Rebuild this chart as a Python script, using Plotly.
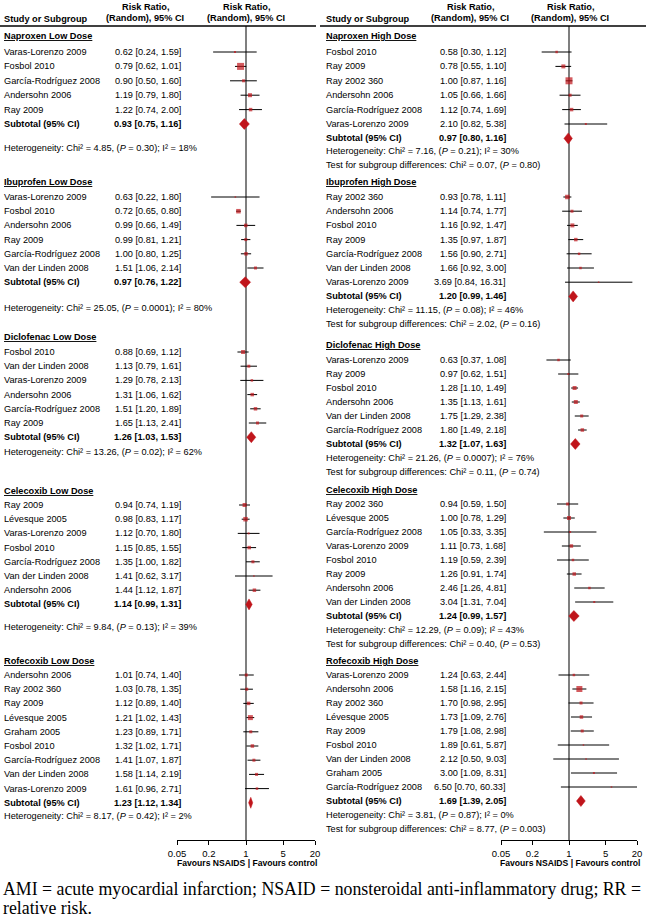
import math
import plotly.graph_objects as go

W, H = 646, 923
FONT = "Liberation Sans, Arial, sans-serif"
SERIF = "Liberation Serif, Times New Roman, serif"
RED = "#C0151B"
FS = 9.2

# ---------------- DATA ----------------
# Left column (low dose)
nap_lo_title = "Naproxen Low Dose"
nap_lo_study = ["Varas-Lorenzo 2009", "Fosbol 2010", "García-Rodríguez 2008", "Andersohn 2006", "Ray 2009"]
nap_lo_rr = [0.62, 0.79, 0.90, 1.19, 1.22]
nap_lo_lo = [0.24, 0.62, 0.50, 0.79, 0.74]
nap_lo_hi = [1.59, 1.01, 1.60, 1.80, 2.00]
nap_lo_w = [2, 7, 3, 4, 3.5]
nap_lo_sub = [0.93, 0.75, 1.16]
nap_lo_het = ["4.85", "0.30", "18%"]

ibu_lo_title = "Ibuprofen Low Dose"
ibu_lo_study = ["Varas-Lorenzo 2009", "Fosbol 2010", "Andersohn 2006", "Ray 2009", "García-Rodríguez 2008", "Van der Linden 2008"]
ibu_lo_rr = [0.63, 0.72, 0.99, 0.99, 1.00, 1.51]
ibu_lo_lo = [0.22, 0.65, 0.66, 0.81, 0.80, 1.06]
ibu_lo_hi = [1.80, 0.80, 1.49, 1.21, 1.25, 2.14]
ibu_lo_w = [1.5, 4.5, 3.5, 3, 3.5, 3]
ibu_lo_sub = [0.97, 0.76, 1.22]
ibu_lo_het = ["25.05", "0.0001", "80%"]

dic_lo_title = "Diclofenac Low Dose"
dic_lo_study = ["Fosbol 2010", "Van der Linden 2008", "Varas-Lorenzo 2009", "Andersohn 2006", "García-Rodríguez 2008", "Ray 2009"]
dic_lo_rr = [0.88, 1.13, 1.29, 1.31, 1.51, 1.65]
dic_lo_lo = [0.69, 0.79, 0.78, 1.06, 1.20, 1.13]
dic_lo_hi = [1.12, 1.61, 2.13, 1.62, 1.89, 2.41]
dic_lo_w = [4, 3, 2.5, 3.5, 3.5, 3]
dic_lo_sub = [1.26, 1.03, 1.53]
dic_lo_het = ["13.26", "0.02", "62%"]

cel_lo_title = "Celecoxib Low Dose"
cel_lo_study = ["Ray 2009", "Lévesque 2005", "Varas-Lorenzo 2009", "Fosbol 2010", "García-Rodríguez 2008", "Van der Linden 2008", "Andersohn 2006"]
cel_lo_rr = [0.94, 0.98, 1.12, 1.15, 1.35, 1.41, 1.44]
cel_lo_lo = [0.74, 0.83, 0.70, 0.85, 1.00, 0.62, 1.12]
cel_lo_hi = [1.19, 1.17, 1.80, 1.55, 1.82, 3.17, 1.87]
cel_lo_w = [4, 4.5, 2, 3.5, 3, 1.5, 3.5]
cel_lo_sub = [1.14, 0.99, 1.31]
cel_lo_het = ["9.84", "0.13", "39%"]

rof_lo_title = "Rofecoxib Low Dose"
rof_lo_study = ["Andersohn 2006", "Ray 2002 360", "Ray 2009", "Lévesque 2005", "Graham 2005", "Fosbol 2010", "García-Rodríguez 2008", "Van der Linden 2008", "Varas-Lorenzo 2009"]
rof_lo_rr = [1.01, 1.03, 1.12, 1.21, 1.23, 1.32, 1.41, 1.58, 1.61]
rof_lo_lo = [0.74, 0.78, 0.89, 1.02, 0.89, 1.02, 1.07, 1.14, 0.96]
rof_lo_hi = [1.40, 1.35, 1.40, 1.43, 1.71, 1.71, 1.87, 2.19, 2.71]
rof_lo_w = [3, 3, 3.5, 5, 3, 3.5, 3, 3, 2.5]
rof_lo_sub = [1.23, 1.12, 1.34]
rof_lo_het = ["8.17", "0.42", "2%"]

# Right column (high dose)
nap_hi_title = "Naproxen High Dose"
nap_hi_study = ["Fosbol 2010", "Ray 2009", "Ray 2002 360", "Andersohn 2006", "García-Rodríguez 2008", "Varas-Lorenzo 2009"]
nap_hi_rr = [0.58, 0.78, 1.00, 1.05, 1.12, 2.10]
nap_hi_lo = [0.30, 0.55, 0.87, 0.66, 0.74, 0.82]
nap_hi_hi = [1.12, 1.10, 1.16, 1.66, 1.69, 5.38]
nap_hi_w = [2.5, 4, 7, 3, 3.5, 2]
nap_hi_sub = [0.97, 0.80, 1.16]
nap_hi_het = ["7.16", "0.21", "30%"]
nap_hi_test = ["0.07", "0.80"]

ibu_hi_title = "Ibuprofen High Dose"
ibu_hi_study = ["Ray 2002 360", "Andersohn 2006", "Fosbol 2010", "Ray 2009", "García-Rodríguez 2008", "Van der Linden 2008", "Varas-Lorenzo 2009"]
ibu_hi_rr = [0.93, 1.14, 1.16, 1.35, 1.56, 1.66, 3.69]
ibu_hi_lo = [0.78, 0.74, 0.92, 0.97, 0.90, 0.92, 0.84]
ibu_hi_hi = [1.11, 1.77, 1.47, 1.87, 2.71, 3.00, 16.31]
ibu_hi_w = [4.5, 3, 4, 3.5, 2.5, 2.5, 1.5]
ibu_hi_sub = [1.20, 0.99, 1.46]
ibu_hi_het = ["11.15", "0.08", "46%"]
ibu_hi_test = ["2.02", "0.16"]

dic_hi_title = "Diclofenac High Dose"
dic_hi_study = ["Varas-Lorenzo 2009", "Ray 2009", "Fosbol 2010", "Andersohn 2006", "Van der Linden 2008", "García-Rodríguez 2008"]
dic_hi_rr = [0.63, 0.97, 1.28, 1.35, 1.75, 1.80]
dic_hi_lo = [0.37, 0.62, 1.10, 1.13, 1.29, 1.49]
dic_hi_hi = [1.08, 1.51, 1.49, 1.61, 2.38, 2.18]
dic_hi_w = [2.5, 2, 4, 4, 3, 3.5]
dic_hi_sub = [1.32, 1.07, 1.63]
dic_hi_het = ["21.26", "0.0007", "76%"]
dic_hi_test = ["0.11", "0.74"]

cel_hi_title = "Celecoxib High Dose"
cel_hi_study = ["Ray 2002 360", "Lévesque 2005", "García-Rodríguez 2008", "Varas-Lorenzo 2009", "Fosbol 2010", "Ray 2009", "Andersohn 2006", "Van der Linden 2008"]
cel_hi_rr = [0.94, 1.00, 1.05, 1.11, 1.19, 1.26, 2.46, 3.04]
cel_hi_lo = [0.59, 0.78, 0.33, 0.73, 0.59, 0.91, 1.26, 1.31]
cel_hi_hi = [1.50, 1.29, 3.35, 1.68, 2.39, 1.74, 4.81, 7.04]
cel_hi_w = [3, 4, 2, 3.5, 2.5, 3.5, 2.5, 2]
cel_hi_sub = [1.24, 0.99, 1.57]
cel_hi_het = ["12.29", "0.09", "43%"]
cel_hi_test = ["0.40", "0.53"]

rof_hi_title = "Rofecoxib High Dose"
rof_hi_study = ["Varas-Lorenzo 2009", "Andersohn 2006", "Ray 2002 360", "Lévesque 2005", "Ray 2009", "Fosbol 2010", "Van der Linden 2008", "Graham 2005", "García-Rodríguez 2008"]
rof_hi_rr = [1.24, 1.58, 1.70, 1.73, 1.79, 1.89, 2.12, 3.00, 6.50]
rof_hi_lo = [0.63, 1.16, 0.98, 1.09, 1.08, 0.61, 0.50, 1.09, 0.70]
rof_hi_hi = [2.44, 2.15, 2.95, 2.76, 2.98, 5.87, 9.03, 8.31, 60.33]
rof_hi_w = [2.5, 6, 3, 3.5, 3, 1.5, 1.5, 2, 1.5]
rof_hi_sub = [1.69, 1.39, 2.05]
rof_hi_het = ["3.81", "0.87", "0%"]
rof_hi_test = ["8.77", "0.003"]

tick_vals = [0.05, 0.2, 1, 5, 20]
tick_text = ["0.05", "0.2", "1", "5", "20"]
axis_label = "Favours NSAIDS | Favours control"
col_head_1 = "Study or Subgroup"
col_head_2 = ["Risk Ratio,", "(Random), 95% CI"]
caption = ["AMI = acute myocardial infarction; NSAID = nonsteroidal anti-inflammatory drug; RR =",
           "relative risk."]

# ---------------- LAYOUT (pixel positions) ----------------
left_groups = [
    (nap_lo_title, nap_lo_study, nap_lo_rr, nap_lo_lo, nap_lo_hi, nap_lo_w, nap_lo_sub, nap_lo_het, None),
    (ibu_lo_title, ibu_lo_study, ibu_lo_rr, ibu_lo_lo, ibu_lo_hi, ibu_lo_w, ibu_lo_sub, ibu_lo_het, None),
    (dic_lo_title, dic_lo_study, dic_lo_rr, dic_lo_lo, dic_lo_hi, dic_lo_w, dic_lo_sub, dic_lo_het, None),
    (cel_lo_title, cel_lo_study, cel_lo_rr, cel_lo_lo, cel_lo_hi, cel_lo_w, cel_lo_sub, cel_lo_het, None),
    (rof_lo_title, rof_lo_study, rof_lo_rr, rof_lo_lo, rof_lo_hi, rof_lo_w, rof_lo_sub, rof_lo_het, None),
]
right_groups = [
    (nap_hi_title, nap_hi_study, nap_hi_rr, nap_hi_lo, nap_hi_hi, nap_hi_w, nap_hi_sub, nap_hi_het, nap_hi_test),
    (ibu_hi_title, ibu_hi_study, ibu_hi_rr, ibu_hi_lo, ibu_hi_hi, ibu_hi_w, ibu_hi_sub, ibu_hi_het, ibu_hi_test),
    (dic_hi_title, dic_hi_study, dic_hi_rr, dic_hi_lo, dic_hi_hi, dic_hi_w, dic_hi_sub, dic_hi_het, dic_hi_test),
    (cel_hi_title, cel_hi_study, cel_hi_rr, cel_hi_lo, cel_hi_hi, cel_hi_w, cel_hi_sub, cel_hi_het, cel_hi_test),
    (rof_hi_title, rof_hi_study, rof_hi_rr, rof_hi_lo, rof_hi_hi, rof_hi_w, rof_hi_sub, rof_hi_het, rof_hi_test),
]
# (header_y, first_row_y, step, het_y, test_y)
left_pos = [(36, 52, 14.4, 148, None), (182, 197, 14.2, 308, None), (337, 352, 14.2, 452, None),
            (491, 505, 14.2, 627, None), (661, 675, 14.2, 816, None)]
right_pos = [(36, 52, 14.4, 151, 165), (182, 197, 14.2, 310, 324), (345, 360, 14.0, 458, 472),
             (490, 504, 14.0, 630, 644), (661, 675, 14.0, 815, 829)]

panels = [
    dict(groups=left_groups, pos=left_pos, name_x=3, ci_x=182, ax="x", ax_dom=(177, 315),
         head_l=(0, 316), rr1_x=145, rr2_x=246),
    dict(groups=right_groups, pos=right_pos, name_x=325, ci_x=507, ax="x2", ax_dom=(501, 637),
         head_l=(320, 646), rr1_x=470, rr2_x=570),
]

HEAD_LINE_Y = 26
AXIS_Y = 840

fig = go.Figure()
annotations = []
shapes = []


def px(x):
    return x / W


def txt(x, y, s, bold=False, size=FS, anchor="left", font=FONT, color="black"):
    if bold:
        s = "<b>" + s + "</b>"
    annotations.append(dict(x=px(x), y=y, xref="paper", yref="y", text=s, showarrow=False,
                            xanchor=anchor, yanchor="middle", borderpad=0,
                            font=dict(family=font, size=size, color=color)))


for p in panels:
    axn = p["ax"]
    # headers
    txt(p["name_x"], 19, col_head_1, bold=True)
    for cx in (p["rr1_x"], p["rr2_x"]):
        txt(cx, 7, col_head_2[0], bold=True, anchor="center")
        txt(cx, 18, col_head_2[1], bold=True, anchor="center")
    shapes.append(dict(type="line", xref="paper", yref="y", x0=px(p["head_l"][0]), x1=px(p["head_l"][1]),
                       y0=HEAD_LINE_Y, y1=HEAD_LINE_Y, line=dict(color="black", width=1.5)))
    # reference line at RR = 1
    fig.add_trace(go.Scatter(x=[1, 1], y=[HEAD_LINE_Y, AXIS_Y], mode="lines", xaxis=axn, yaxis="y",
                             line=dict(color="#555555", width=1.5), hoverinfo="skip", showlegend=False))

    ci_x, ci_y = [], []
    mk_x, mk_y, mk_s = [], [], []
    dm_x, dm_y = [], []
    for (title, study, rr, lo, hi, w, sub, het, test), (hy, fy, step, het_y, test_y) in zip(p["groups"], p["pos"]):
        txt(p["name_x"], hy, "<u>" + title + "</u>", bold=True)
        for i in range(len(study)):
            y = fy + i * step
            txt(p["name_x"], y, study[i])
            txt(p["ci_x"], y, f"{rr[i]:.2f} [{lo[i]:.2f}, {hi[i]:.2f}]", anchor="right")
            top = min(hi[i], 20)
            ci_x += [lo[i], top, None]
            ci_y += [y, y, None]
            mk_x.append(rr[i])
            mk_y.append(y)
            mk_s.append(w[i])
            if hi[i] > 20:
                annotations.append(dict(x=math.log10(20) + 0.02, y=y, xref=axn, yref="y", ax=-10, ay=0,
                                        text="", showarrow=True, arrowhead=2, arrowsize=1,
                                        arrowwidth=1, arrowcolor="black"))
        ys = fy + len(study) * step
        txt(p["name_x"], ys, "Subtotal (95% CI)", bold=True)
        txt(p["ci_x"], ys, f"{sub[0]:.2f} [{sub[1]:.2f}, {sub[2]:.2f}]", bold=True, anchor="right")
        dm_x += [sub[1], sub[0], sub[2], sub[0], sub[1], None]
        dm_y += [ys, ys - 5.5, ys, ys + 5.5, ys, None]
        txt(p["name_x"], het_y,
            f"Heterogeneity: Chi² = {het[0]}, (<i>P</i> = {het[1]}); I² = {het[2]}")
        if test is not None:
            txt(p["name_x"], test_y,
                f"Test for subgroup differences: Chi² = {test[0]}, (<i>P</i> = {test[1]})")

    fig.add_trace(go.Scatter(x=ci_x, y=ci_y, mode="lines", xaxis=axn, yaxis="y",
                             line=dict(color="black", width=1), hoverinfo="skip", showlegend=False))
    fig.add_trace(go.Scatter(x=mk_x, y=mk_y, mode="markers", xaxis=axn, yaxis="y",
                             marker=dict(symbol="square", size=mk_s, color=RED, line=dict(width=0)),
                             hoverinfo="skip", showlegend=False))
    fig.add_trace(go.Scatter(x=dm_x, y=dm_y, mode="lines", fill="toself", fillcolor=RED, xaxis=axn, yaxis="y",
                             line=dict(color=RED, width=0.5), hoverinfo="skip", showlegend=False))
    # axis label
    cx = (p["ax_dom"][0] + p["ax_dom"][1]) / 2 + 1
    txt(cx, 863, axis_label, bold=True, anchor="center", size=8.6)

# caption
txt(2, 889, caption[0], size=17.8, font=SERIF)
txt(2, 908, caption[1], size=17.8, font=SERIF)

axis_common = dict(type="log", range=[math.log10(0.05), math.log10(20)], tickvals=tick_vals, ticktext=tick_text,
                   showline=True, linecolor="black", linewidth=1.2, ticks="outside", ticklen=4,
                   tickcolor="black", tickwidth=1.2, showgrid=False, zeroline=False,
                   tickfont=dict(family=FONT, size=9.5, color="black"), automargin=False,
                   anchor="free", position=(H - AXIS_Y) / H, fixedrange=True)

fig.update_layout(
    template="none",
    width=W, height=H,
    margin=dict(l=0, r=0, t=0, b=0, pad=0, autoexpand=False),
    paper_bgcolor="white", plot_bgcolor="rgba(0,0,0,0)",
    xaxis=dict(domain=[px(panels[0]["ax_dom"][0]), px(panels[0]["ax_dom"][1])], **axis_common),
    xaxis2=dict(domain=[px(panels[1]["ax_dom"][0]), px(panels[1]["ax_dom"][1])], **axis_common),
    yaxis=dict(range=[H, 0], domain=[0, 1], visible=False, fixedrange=True, automargin=False),
    annotations=annotations,
    shapes=shapes,
    showlegend=False,
)

fig.write_html("out.html", config={"displayModeBar": False},
               post_script="document.body.style.margin='0';document.body.style.overflow='hidden';")
